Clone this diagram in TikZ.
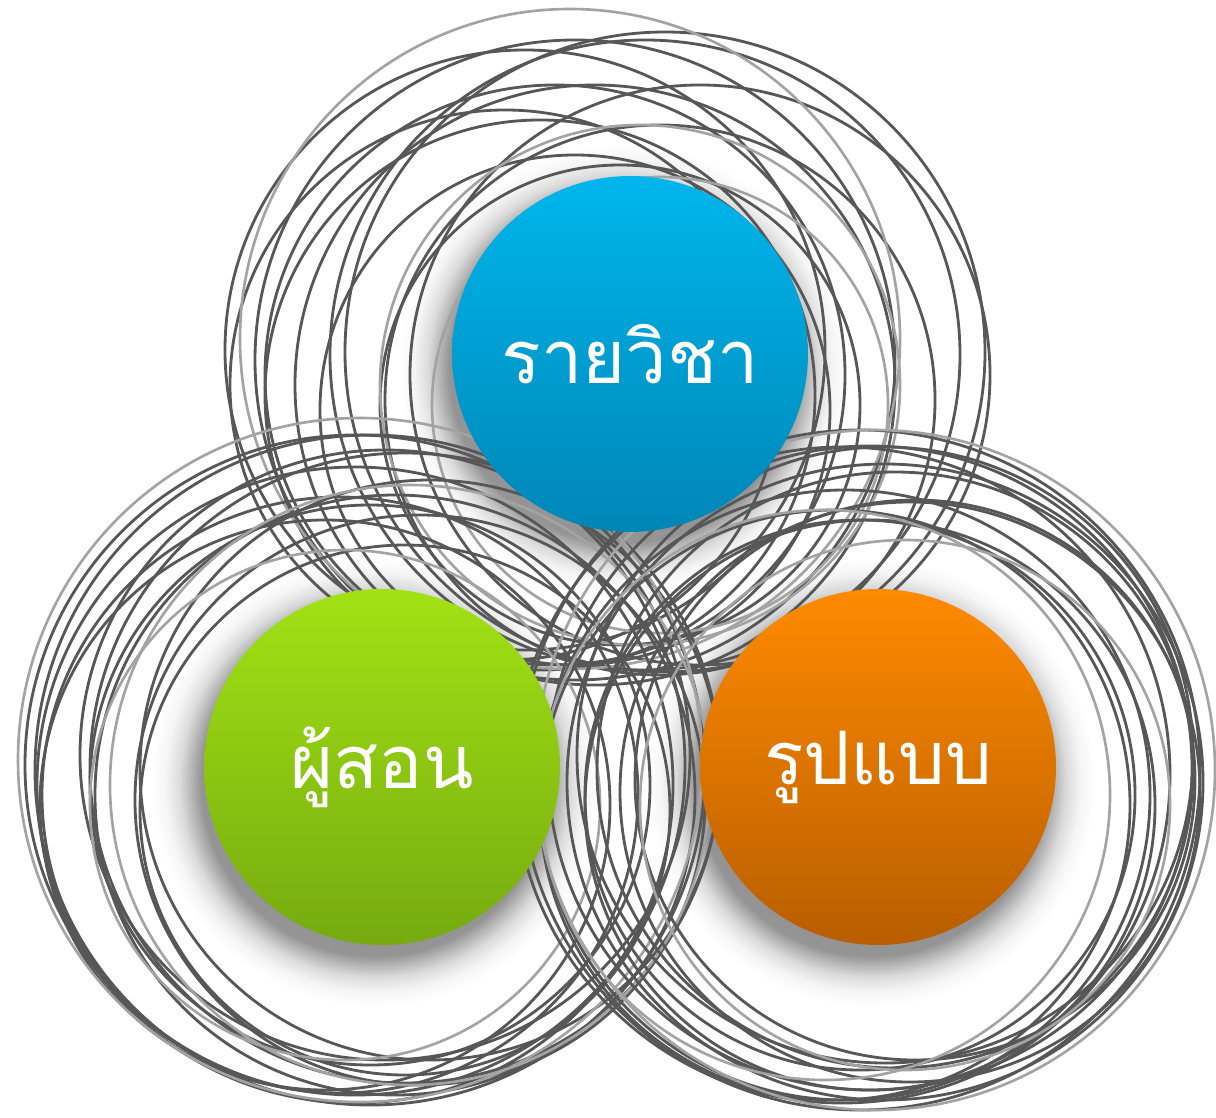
\documentclass[tikz,border=0pt]{standalone}
\usepackage{fontspec}
\newfontfamily\thaifont[Script=Thai]{Loma}
\pgfdeclareradialshading{shadowfade}{\pgfpoint{0bp}{0bp}}{%
  color(0bp)=(black!42); color(19.4bp)=(black!42); color(20.4bp)=(black!30);
  color(21.8bp)=(black!14); color(23.4bp)=(black!4); color(25bp)=(white); color(50bp)=(white)}
\tikzset{
  darkring/.style={draw=black!66, line width=1.6pt},
  lightring/.style={draw=black!36, line width=1.5pt},
  shadowdisc/.style={shading=shadowfade},
  ball/.style={circle, inner sep=0pt, minimum size=7.12cm, text=white,
    font=\thaifont\fontsize{42}{46}\selectfont},
}
\begin{document}
\begin{tikzpicture}[x=0.02cm, y=-0.02cm]
\useasboundingbox (0,0) rectangle (1216,1118);
\fill[white] (0,0) rectangle (1216,1118);
% soft shadows
\path[shadowdisc] (623,369) circle[radius=224];
\path[shadowdisc] (375,782) circle[radius=224];
\path[shadowdisc] (871,782) circle[radius=224];
% top group rings
\foreach \cx/\cy/\r in {665/352/320, 525/350/300, 700/375/290, 505/385/275,
  540/395/275, 575/410/255, 620/405/240, 645/355/315, 595/385/300,
  575/360/320, 660/400/275, 555/375/290}
  \draw[darkring] (\cx,\cy) circle[radius=\r];
\foreach \cx/\cy/\r in {570/339/330, 640/385/260, 660/405/228}
  \draw[lightring] (\cx,\cy) circle[radius=\r];
% left group rings
\foreach \cx/\cy/\r in {370/770/335, 355/785/318, 405/768/315, 340/795/298,
  395/795/300, 385/755/305, 355/765/330, 420/800/285, 325/805/285,
  405/810/265, 370/785/280, 430/770/290}
  \draw[darkring] (\cx,\cy) circle[radius=\r];
\foreach \cx/\cy/\r in {360/760/342, 410/785/300, 345/805/255}
  \draw[lightring] (\cx,\cy) circle[radius=\r];
% right group rings
\foreach \cx/\cy/\r in {860/770/340, 885/782/318, 845/795/305, 895/770/298,
  842/775/328, 870/805/285, 910/792/290, 835/805/295, 885/755/308,
  860/795/275, 915/780/280, 870/768/322}
  \draw[darkring] (\cx,\cy) circle[radius=\r];
\foreach \cx/\cy/\r in {875/770/340, 825/795/285, 905/805/265}
  \draw[lightring] (\cx,\cy) circle[radius=\r];
% coloured discs
\node[ball, top color={rgb,255:red,0;green,182;blue,236}, bottom color={rgb,255:red,0;green,134;blue,183}]
  (course) at (630,354) {รายวิชา};
\node[ball, top color={rgb,255:red,162;green,226;blue,20}, bottom color={rgb,255:red,118;green,170;blue,16}]
  (teacher) at (382,767) {ผู้สอน};
\node[ball, top color={rgb,255:red,255;green,138;blue,0}, bottom color={rgb,255:red,184;green,94;blue,0}]
  (format) at (878,767) {รูปแบบ};
\end{tikzpicture}
\end{document}
